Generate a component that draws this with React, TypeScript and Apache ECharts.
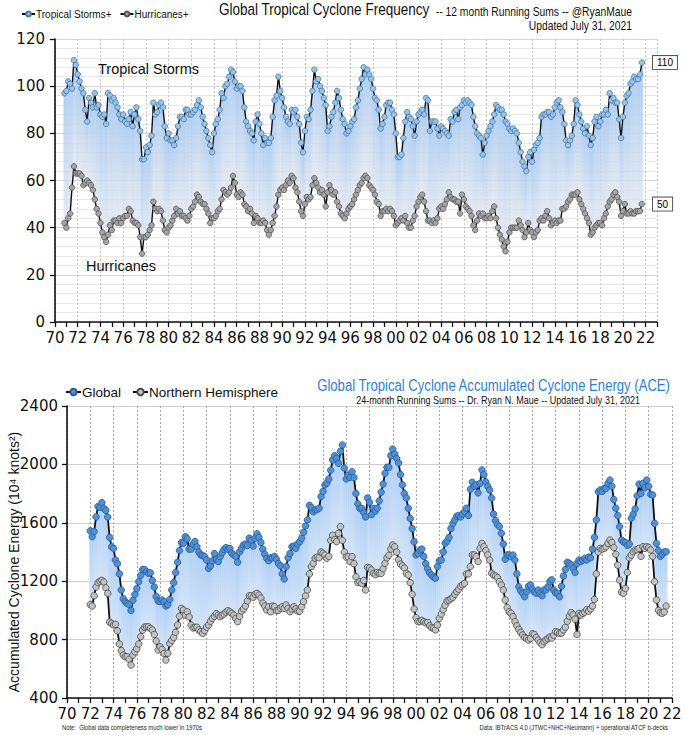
import React, { useEffect, useRef } from 'react';
import * as echarts from 'echarts';

// ---------- DATA ----------
// Top panel: 12-month running sums, one value every 2 months starting Nov 1970
const TOP_START = 1970 + 10 / 12;
const TOP_STEP = 1 / 6;
const tropicalStorms = [
  97, 98, 102, 101, 99, 111, 109, 105, 102, 99,
  97, 90, 85, 95, 93, 91, 97, 91, 92, 88,
  87, 88, 84, 97, 96, 94, 95, 93, 91, 88,
  86, 88, 85, 84, 86, 89, 83, 88, 91, 86,
  81, 69, 69, 74, 72, 75, 79, 93, 88, 89,
  92, 93, 91, 83, 78, 80, 77, 77, 75, 78,
  83, 87, 87, 86, 90, 90, 88, 88, 89, 90,
  92, 94, 91, 87, 84, 81, 78, 75, 72, 80,
  84, 86, 90, 97, 95, 100, 101, 104, 107, 106,
  102, 99, 100, 100, 98, 91, 85, 83, 81, 80,
  77, 85, 88, 84, 80, 75, 78, 76, 76, 78,
  87, 94, 96, 104, 98, 95, 91, 87, 85, 84,
  90, 89, 90, 87, 84, 76, 72, 81, 87, 86,
  90, 98, 107, 102, 103, 100, 98, 95, 92, 81,
  83, 87, 89, 93, 98, 95, 90, 86, 84, 80,
  81, 83, 85, 86, 91, 94, 99, 103, 108, 105,
  107, 105, 103, 99, 95, 94, 90, 82, 84, 87,
  92, 93, 93, 90, 88, 80, 70, 70, 71, 78,
  85, 89, 87, 86, 83, 79, 85, 88, 89, 90,
  88, 95, 94, 81, 85, 85, 85, 82, 79, 83,
  82, 81, 80, 79, 86, 85, 89, 90, 86, 91,
  92, 94, 93, 94, 93, 92, 87, 83, 80, 79,
  78, 71, 76, 79, 81, 83, 85, 88, 92, 91,
  90, 90, 88, 85, 84, 82, 81, 82, 81, 80,
  76, 72, 68, 66, 64, 70, 72, 68, 73, 75,
  76, 78, 87, 88, 88, 89, 89, 87, 88, 91,
  93, 94, 91, 89, 84, 77, 75, 77, 79, 84,
  94, 92, 88, 85, 82, 80, 83, 79, 75, 78,
  85, 87, 83, 85, 88, 88, 90, 88, 97, 94,
  95, 93, 93, 86, 78, 87, 93, 96, 97, 101,
  102, 104, 103, 103, 105, 110,
];
const hurricanes = [
  42, 40, 44, 46, 57, 66, 63, 63, 63, 62,
  58, 59, 60, 59, 58, 56, 52, 48, 46, 42,
  38, 36, 34, 37, 41, 39, 43, 43, 42, 44,
  42, 44, 45, 45, 48, 47, 43, 42, 42, 41,
  36, 29, 36, 36, 37, 39, 41, 51, 48, 47,
  48, 47, 43, 39, 38, 40, 41, 43, 45, 48,
  46, 47, 45, 45, 44, 43, 45, 48, 49, 51,
  54, 53, 51, 50, 50, 48, 46, 42, 44, 44,
  45, 47, 48, 52, 56, 55, 54, 55, 57, 62,
  59, 54, 53, 55, 54, 50, 49, 47, 48, 46,
  42, 45, 44, 42, 42, 43, 42, 39, 37, 39,
  42, 45, 49, 54, 56, 57, 56, 58, 60, 59,
  62, 61, 57, 55, 51, 47, 45, 50, 53, 52,
  53, 58, 61, 59, 57, 55, 56, 54, 49, 55,
  58, 56, 54, 55, 51, 49, 46, 45, 44, 46,
  48, 49, 50, 52, 54, 56, 58, 59, 61, 62,
  61, 58, 57, 56, 54, 51, 50, 45, 47, 47,
  48, 47, 48, 47, 45, 41, 42, 43, 44, 43,
  45, 42, 40, 40, 43, 45, 49, 51, 53, 54,
  51, 47, 43, 43, 42, 43, 42, 44, 48, 49,
  48, 50, 52, 55, 53, 52, 52, 51, 51, 46,
  54, 52, 49, 48, 47, 45, 41, 39, 43, 46,
  45, 46, 44, 44, 45, 44, 47, 49, 44, 40,
  37, 35, 32, 30, 34, 38, 40, 40, 40, 40,
  43, 41, 39, 36, 38, 42, 39, 38, 36, 38,
  39, 43, 44, 43, 45, 47, 44, 41, 42, 43,
  42, 43, 43, 48, 48, 49, 51, 52, 54, 54,
  54, 55, 52, 50, 48, 46, 44, 42, 37, 38,
  40, 41, 42, 42, 41, 44, 46, 49, 51, 52,
  54, 55, 53, 51, 45, 47, 50, 46, 46, 47,
  46, 46, 47, 47, 47, 50,
];

// Bottom panel: 24-month running sums of ACE, one value every 2 months from Jan 1972
const BOT_START = 1972;
const BOT_STEP = 1 / 6;
const globalAce = [
  1545, 1505, 1540, 1640, 1712, 1706, 1738, 1700, 1685, 1640,
  1500, 1436, 1425, 1345, 1320, 1250, 1140, 1080, 1060, 1048,
  1040, 1000, 1070, 1110, 1150, 1197, 1240, 1280, 1280, 1265,
  1254, 1258, 1205, 1160, 1095, 1065, 1060, 1071, 1060, 1030,
  1040, 1075, 1140, 1190, 1260, 1330, 1410, 1465, 1460, 1505,
  1490, 1420, 1420, 1455, 1471, 1436, 1400, 1380, 1375, 1368,
  1345, 1288, 1305, 1340, 1390, 1350, 1334, 1368, 1395, 1418,
  1430, 1418, 1425, 1391, 1380, 1370, 1330, 1400, 1425, 1448,
  1455, 1445, 1495, 1480, 1440, 1494, 1525, 1500, 1465, 1420,
  1385, 1357, 1340, 1360, 1360, 1370, 1350, 1322, 1305, 1250,
  1215, 1300, 1360, 1390, 1436, 1440, 1425, 1455, 1470, 1494,
  1535, 1578, 1620, 1720, 1705, 1676, 1688, 1690, 1700, 1780,
  1815, 1859, 1872, 1900, 1960, 2030, 2060, 2041, 2007, 2090,
  2133, 1975, 1900, 1927, 1910, 1950, 1910, 1800, 1730, 1699,
  1699, 1670, 1640, 1770, 1740, 1655, 1699, 1680, 1700, 1750,
  1810, 1865, 1939, 1980, 1980, 2060, 2105, 2070, 2040, 2010,
  1930, 1860, 1800, 1770, 1699, 1630, 1560, 1470, 1380, 1390,
  1414, 1420, 1370, 1320, 1285, 1258, 1242, 1228, 1220, 1300,
  1340, 1345, 1400, 1460, 1475, 1500, 1560, 1595, 1619, 1645,
  1650, 1640, 1660, 1676, 1700, 1650, 1830, 1878, 1850, 1859,
  1805, 1870, 1962, 1930, 1880, 1850, 1825, 1770, 1660, 1615,
  1588, 1574, 1528, 1455, 1350, 1380, 1380, 1368, 1379, 1345,
  1250, 1162, 1135, 1117, 1094, 1128, 1165, 1175, 1145, 1128,
  1117, 1140, 1115, 1100, 1140, 1140, 1162, 1197, 1210, 1140,
  1120, 1117, 1094, 1165, 1235, 1280, 1330, 1322, 1311, 1288,
  1260, 1320, 1345, 1334, 1345, 1357, 1345, 1365, 1360, 1420,
  1500, 1620, 1813, 1825, 1815, 1836, 1836, 1870, 1893, 1850,
  1760, 1700, 1650, 1574, 1482, 1468, 1465, 1445, 1455, 1631,
  1660, 1695, 1785, 1865, 1800, 1870, 1840, 1893, 1850, 1795,
  1790, 1596, 1459, 1410, 1370, 1385, 1400, 1402,
];
const northernAce = [
  1040, 1030, 1100, 1160, 1190, 1200, 1206, 1195, 1155, 1117,
  920, 911, 900, 905, 860, 770, 725, 694, 683, 683,
  665, 626, 694, 717, 738, 770, 820, 865, 885, 888,
  888, 877, 866, 835, 790, 729, 751, 732, 705, 660,
  706, 774, 795, 815, 850, 900, 960, 1014, 1003, 968,
  991, 955, 900, 880, 883, 885, 866, 854, 843, 862,
  885, 900, 925, 945, 960, 978, 968, 957, 968, 975,
  988, 998, 990, 980, 968, 945, 923, 960, 995, 1010,
  1030, 1065, 1100, 1100, 1090, 1110, 1117, 1105, 1085, 1050,
  1030, 1003, 1025, 991, 1030, 1025, 998, 1000, 1015, 1025,
  1014, 1037, 1014, 991, 1010, 1025, 1010, 995, 995, 1025,
  1060, 1100, 1140, 1250, 1300, 1322, 1357, 1365, 1360, 1400,
  1391, 1379, 1357, 1370, 1480, 1515, 1485, 1471, 1528, 1574,
  1480, 1400, 1365, 1368, 1334, 1368, 1320, 1230, 1190, 1197,
  1185, 1205, 1140, 1295, 1290, 1277, 1254, 1245, 1260, 1254,
  1254, 1285, 1322, 1360, 1378, 1420, 1448, 1436, 1400, 1345,
  1318, 1305, 1290, 1254, 1242, 1190, 1110, 1010, 950, 923,
  923, 932, 923, 915, 918, 895, 882, 877, 866, 900,
  945, 975, 1005, 1035, 1065, 1070, 1080, 1090, 1110, 1128,
  1145, 1165, 1175, 1185, 1250, 1250, 1300, 1380, 1380, 1368,
  1334, 1425, 1459, 1436, 1410, 1380, 1345, 1254, 1242, 1236,
  1225, 1197, 1174, 1140, 1071, 1020, 990, 980, 957, 923,
  895, 870, 850, 832, 815, 808, 797, 808, 840, 835,
  815, 797, 780, 765, 786, 797, 808, 818, 810, 830,
  855, 850, 843, 845, 866, 885, 925, 960, 985, 970,
  940, 835, 980, 968, 980, 988, 1005, 995, 1010, 1030,
  1075, 1250, 1400, 1425, 1420, 1425, 1436, 1459, 1482, 1465,
  1430, 1385, 1310, 1208, 1125, 1117, 1150, 1260, 1360, 1379,
  1402, 1414, 1415, 1425, 1370, 1436, 1425, 1436, 1430, 1414,
  1370, 1197, 1071, 1000, 985, 980, 990, 1030,
];

// Axis settings
const X_MIN = 1970;
const TOP_X_MAX = 2023;
const BOT_X_MAX = 2022;
const TOP_Y = [0, 120, 20];
const BOT_Y = [400, 2400, 400];

// ---------- STYLE ----------
const NUM_FONT = '"DejaVu Sans", sans-serif';
const SANS = '"Liberation Sans", Arial, sans-serif';

const yearLabel = (v: number) => (v > 2022 ? '' : String(Math.round(v) % 100).padStart(2, '0'));

function makeBand(step: number, fillTop: string, fillBot: string, strokeTop: string, strokeBot: string, lw: number) {
  return (params: any, api: any) => {
    const t = api.value(0);
    const lo = api.value(1);
    const hi = api.value(2);
    const pLo = api.coord([t, lo]);
    const pHi = api.coord([t, hi]);
    const w = api.size([step, 0])[0];
    return {
      type: 'group',
      children: [
        {
          type: 'rect',
          shape: { x: pLo[0] - w / 2, y: pHi[1], width: w + 0.4, height: pLo[1] - pHi[1] },
          style: {
            fill: new echarts.graphic.LinearGradient(0, 0, 0, 1, [
              { offset: 0, color: fillTop },
              { offset: 1, color: fillBot },
            ]),
          },
        },
        {
          type: 'line',
          shape: { x1: pLo[0], y1: pHi[1], x2: pLo[0], y2: pLo[1] },
          style: {
            stroke: new echarts.graphic.LinearGradient(0, 0, 0, 1, [
              { offset: 0, color: strokeTop },
              { offset: 1, color: strokeBot },
            ]),
            lineWidth: lw,
          },
        },
      ],
    };
  };
}

function xAxisCfg(gridIndex: number, max: number, splitColor: string) {
  return {
    gridIndex,
    type: 'value',
    min: X_MIN,
    max,
    interval: 2,
    axisLine: { show: true, onZero: false, lineStyle: { color: '#111', width: 1.6 } },
    axisTick: { show: true, length: 5, lineStyle: { color: '#111', width: 1.3 } },
    minorTick: { show: true, splitNumber: 2, length: 5, lineStyle: { color: '#111', width: 1.3 } },
    axisLabel: {
      formatter: yearLabel,
      fontSize: 15,
      fontFamily: NUM_FONT,
      color: '#111',
      margin: 8,
    },
    splitLine: { show: true, lineStyle: { color: splitColor, type: [2, 2], width: 1 } },
  };
}

function txt(x: number, y: number, text: string, size: number, sx: number, extra: any = {}) {
  return {
    type: 'text',
    x,
    y,
    scaleX: sx,
    z: 100,
    style: {
      text,
      fontSize: size,
      fontFamily: SANS,
      fill: '#111',
      align: 'left',
      verticalAlign: 'top',
      ...extra,
    },
  };
}

export default function App() {
  const ref = useRef<HTMLDivElement>(null);

  useEffect(() => {
    if (!ref.current) return;
    const chart = echarts.init(ref.current, undefined, { renderer: 'svg' });

    const tTop = (i: number) => TOP_START + i * TOP_STEP;
    const tBot = (i: number) => BOT_START + i * BOT_STEP;

    const boxLabel = (text: string) => ({
      show: true,
      position: 'right',
      distance: 8,
      formatter: text,
      backgroundColor: '#fff',
      borderColor: '#555',
      borderWidth: 1,
      padding: [2, 4, 1, 4],
      fontSize: 10,
      fontFamily: SANS,
      color: '#000',
    });

    const stormsData: any[] = tropicalStorms.map((v, i) => [tTop(i), v]);
    const lastS = stormsData.length - 1;
    stormsData[lastS] = { value: stormsData[lastS], label: boxLabel(String(tropicalStorms[lastS])) };
    const hurrData: any[] = hurricanes.map((v, i) => [tTop(i), v]);
    const lastH = hurrData.length - 1;
    hurrData[lastH] = { value: hurrData[lastH], label: boxLabel(String(hurricanes[lastH])) };

    const topBand = tropicalStorms.map((v, i) => [tTop(i), hurricanes[i], v]);
    const botBand = globalAce.map((v, i) => [tBot(i), northernAce[i], v]);

    const option: any = {
      animation: false,
      backgroundColor: '#fff',
      legend: [
        {
          data: ['Tropical Storms+', 'Hurricanes+'],
          left: 16,
          top: 4,
          itemWidth: 13,
          itemHeight: 6,
          itemGap: 8,
          textStyle: { fontSize: 10, fontFamily: SANS, color: '#111', padding: [0, 0, 0, -4] },
        },
        {
          data: ['Global', 'Northern Hemisphere'],
          left: 60,
          top: 380,
          itemWidth: 15,
          itemHeight: 8,
          itemGap: 11,
          textStyle: { fontSize: 13.5, fontFamily: SANS, color: '#111', padding: [0, 0, 0, -4] },
        },
      ],
      grid: [
        { left: 55, top: 39, width: 602, height: 283 },
        { left: 67, top: 406, width: 605, height: 292 },
      ],
      xAxis: [xAxisCfg(0, TOP_X_MAX, '#c8c8c8'), xAxisCfg(1, BOT_X_MAX, '#a8a8a8')],
      yAxis: [
        {
          gridIndex: 0,
          type: 'value',
          min: TOP_Y[0],
          max: TOP_Y[1],
          interval: TOP_Y[2],
          axisLine: { show: true, lineStyle: { color: '#111', width: 1.6 } },
          axisTick: { show: true, length: 5, lineStyle: { color: '#111', width: 1.3 } },
          axisLabel: { fontSize: 15, fontFamily: NUM_FONT, color: '#111', margin: 10, formatter: (v: number) => String(v) },
          splitLine: { show: true, lineStyle: { color: '#d6d6d6', width: 1 } },
          minorTick: { show: false, splitNumber: 5 },
          minorSplitLine: { show: true, lineStyle: { color: '#e9e9e9', width: 1 } },
        },
        {
          gridIndex: 1,
          type: 'value',
          min: BOT_Y[0],
          max: BOT_Y[1],
          interval: BOT_Y[2],
          axisLine: { show: true, lineStyle: { color: '#111', width: 1.6 } },
          axisTick: { show: true, length: 5, lineStyle: { color: '#111', width: 1.3 } },
          axisLabel: { fontSize: 15, fontFamily: NUM_FONT, color: '#111', margin: 9, formatter: (v: number) => String(v) },
          splitLine: { show: true, lineStyle: { color: '#d0d0d0', width: 1.2 } },
        },
      ],
      series: [
        {
          type: 'custom',
          name: 'topBand',
          xAxisIndex: 0,
          yAxisIndex: 0,
          data: topBand,
          encode: { x: 0, y: [1, 2] },
          renderItem: makeBand(
            TOP_STEP,
            'rgba(172,204,240,0.95)',
            'rgba(222,229,239,0.75)',
            'rgba(75,125,195,0.65)',
            'rgba(120,140,175,0.3)',
            0.9,
          ),
          silent: true,
          z: 1,
        },
        {
          type: 'line',
          name: 'Hurricanes+',
          xAxisIndex: 0,
          yAxisIndex: 0,
          data: hurrData,
          symbol: 'circle',
          symbolSize: 5.5,
          itemStyle: { color: '#a4a4a4', borderColor: '#555', borderWidth: 0.8 },
          lineStyle: { color: '#111', width: 1.4 },
          z: 3,
        },
        {
          type: 'line',
          name: 'Tropical Storms+',
          xAxisIndex: 0,
          yAxisIndex: 0,
          data: stormsData,
          symbol: 'circle',
          symbolSize: 5.5,
          itemStyle: { color: '#94c4ec', borderColor: '#4a759e', borderWidth: 0.8 },
          lineStyle: { color: '#111', width: 1.4 },
          z: 4,
        },
        {
          type: 'custom',
          name: 'botBand',
          xAxisIndex: 1,
          yAxisIndex: 1,
          data: botBand,
          encode: { x: 0, y: [1, 2] },
          renderItem: makeBand(
            BOT_STEP,
            'rgba(176,208,245,1)',
            'rgba(212,228,248,1)',
            'rgba(45,110,200,0.85)',
            'rgba(70,130,210,0.7)',
            1,
          ),
          silent: true,
          z: 1,
        },
        {
          type: 'line',
          name: 'Northern Hemisphere',
          xAxisIndex: 1,
          yAxisIndex: 1,
          data: northernAce.map((v, i) => [tBot(i), v]),
          symbol: 'circle',
          symbolSize: 6.5,
          itemStyle: { color: '#c2c2c2', borderColor: '#4a4a4a', borderWidth: 0.8 },
          lineStyle: { color: '#111', width: 1.8 },
          z: 3,
        },
        {
          type: 'line',
          name: 'Global',
          xAxisIndex: 1,
          yAxisIndex: 1,
          data: globalAce.map((v, i) => [tBot(i), v]),
          symbol: 'circle',
          symbolSize: 6.5,
          itemStyle: { color: '#4f90d8', borderColor: '#2b5c92', borderWidth: 0.8 },
          lineStyle: { color: '#111', width: 1.8 },
          z: 4,
        },
      ],
      graphic: [
        txt(219, 2, 'Global Tropical Cyclone Frequency', 16, 0.845),
        txt(632, 6, '-- 12 month Running Sums -- @RyanMaue', 12, 0.86, { align: 'right' }),
        txt(632, 20, 'Updated July 31, 2021', 12, 0.86, { align: 'right' }),
        txt(98, 61, 'Tropical Storms', 14.5, 1),
        txt(86, 258, 'Hurricanes', 14.5, 1),
        txt(670, 378, 'Global Tropical Cyclone Accumulated Cyclone Energy (ACE)', 16, 0.82, {
          fill: '#2f7fd6',
          align: 'right',
        }),
        txt(640, 395, '24-month Running Sums -- Dr. Ryan N. Maue -- Updated July 31, 2021', 10.5, 0.86, {
          align: 'right',
        }),
        {
          type: 'text',
          x: 14,
          y: 562,
          rotation: Math.PI / 2,
          z: 100,
          style: {
            text: 'Accumulated Cyclone Energy (10\u2074 knots\u00b2)',
            fontSize: 14,
            fontFamily: SANS,
            fill: '#111',
            align: 'center',
            verticalAlign: 'middle',
          },
        },
        txt(62, 724, 'Note:  Global data completeness much lower in 1970s', 6.5, 0.9, { fill: '#222' }),
        txt(668, 724, 'Data: IBTrACS 4.0 (JTWC+NHC+Neumann) + operational ATCF b-decks', 6.5, 0.9, {
          fill: '#222',
          align: 'right',
        }),
      ],
    };

    chart.setOption(option);
    return () => chart.dispose();
  }, []);

  return (
    <div
      ref={ref}
      style={{ position: 'fixed', left: 0, top: 0, width: 685, height: 735, background: '#fff' }}
    />
  );
}
